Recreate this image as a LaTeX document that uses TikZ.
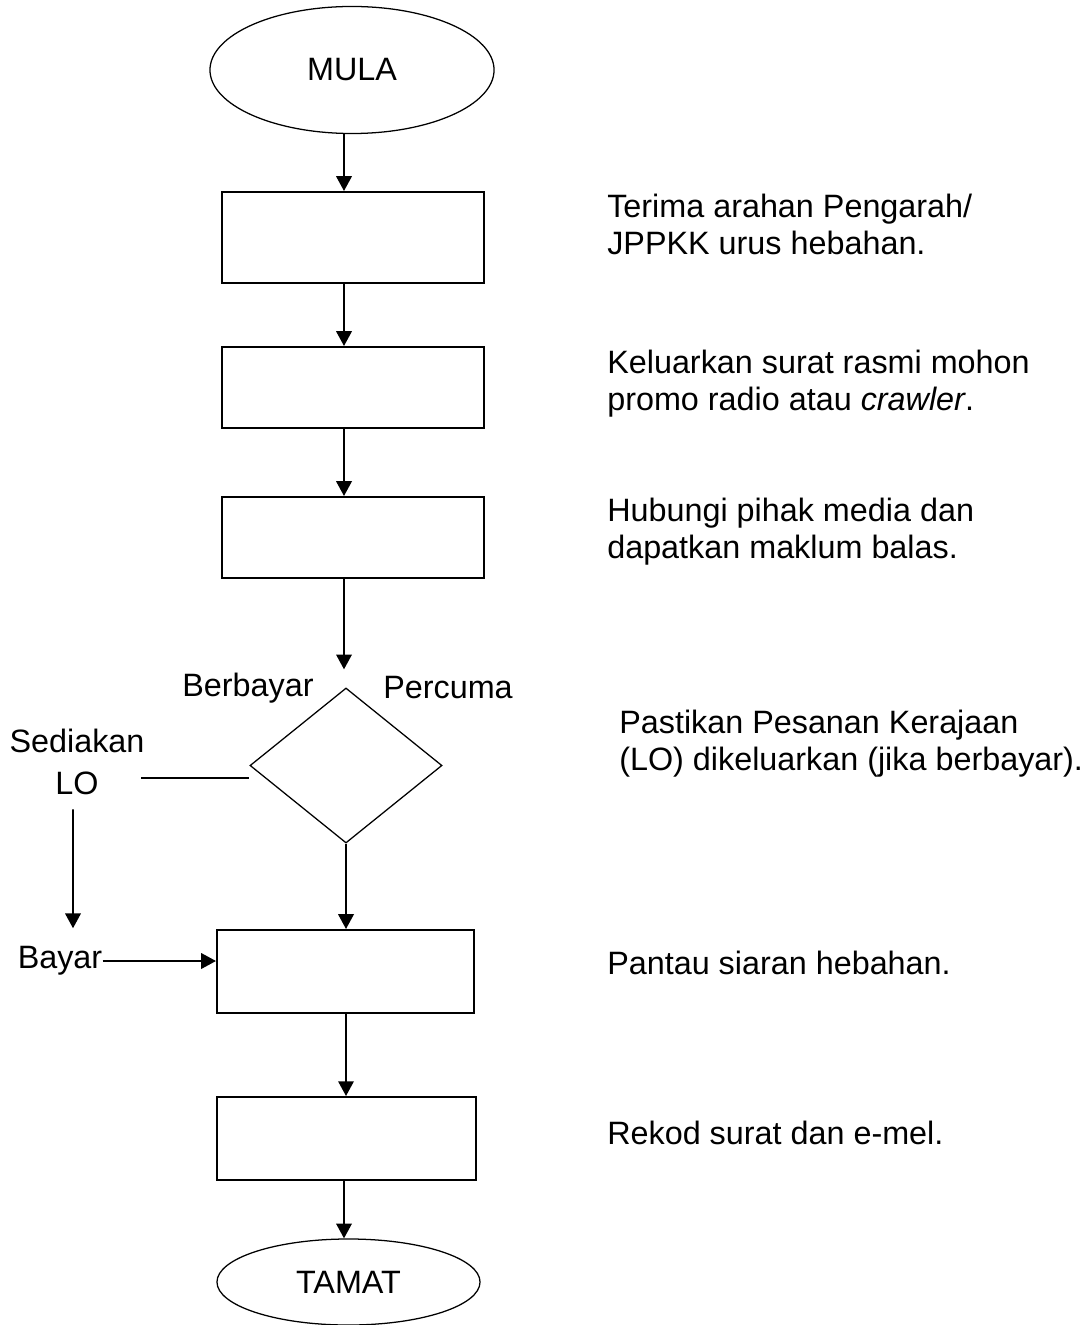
\documentclass[tikz,border=0pt]{standalone}
\usepackage{fontspec}
\setmainfont{Liberation Sans}
\usetikzlibrary{shapes.geometric}
\usetikzlibrary{arrows.meta}

\begin{document}
\begin{tikzpicture}[x=0.025cm,y=-0.025cm,>={Triangle[length=10.5pt,width=11pt]},
	font=\fontsize{23}{26.3}\selectfont,
	step box/.style={rectangle,draw,line width=1.4pt,inner sep=0pt},
	end node/.style={ellipse,draw,line width=0.9pt,inner sep=0pt},
	flow/.style={->,line width=1.4pt},
	note/.style={anchor=west,align=left,inner sep=0pt}]

	\useasboundingbox (0,0) rectangle (1091,1325);

	\node[end node, minimum width=7.1cm, minimum height=3.175cm] (mula) at (352,70) {MULA};
	\node[step box, minimum width=6.55cm, minimum height=2.275cm] (b1) at (353,237.5) {};
	\node[step box, minimum width=6.55cm, minimum height=2.025cm] (b2) at (353,387.5) {};
	\node[step box, minimum width=6.55cm, minimum height=2.025cm] (b3) at (353,537.5) {};
	\node[diamond, draw, line width=0.9pt, inner sep=0pt,
		minimum width=4.8cm, minimum height=3.875cm] (dia) at (346,765.5) {};
	\node[step box, minimum width=6.425cm, minimum height=2.075cm] (b4) at (345.5,971.5) {};
	\node[step box, minimum width=6.475cm, minimum height=2.075cm] (b5) at (346.5,1138.5) {};
	\node[end node, minimum width=6.575cm, minimum height=2.15cm] (tamat) at (348.5,1282) {TAMAT};

	\coordinate (spine) at (344,0);

	% labels round the decision
	\node[inner sep=0pt] (berbayar) at (248,688) {Berbayar};
	\node[inner sep=0pt] (percuma) at (448,688) {Percuma};
	\node[inner sep=0pt, align=center] (sediakan) at (77,762) {Sediakan\\[4pt]LO};
	\node[inner sep=0pt] (bayar) at (60,961) {Bayar};
	\coordinate (lo-end) at (141,778);

	% notes
	\node[note] (n1) at (607,224.5) {Terima arahan Pengarah/\\JPPKK urus hebahan.};
	\node[note] (n2) at (607,383.5) {Keluarkan surat rasmi mohon\\promo radio atau \textit{crawler}.};
	\node[note] (n3) at (607,532) {Hubungi pihak media dan\\dapatkan maklum balas.};
	\node[note] (n4) at (619,743.5) {Pastikan Pesanan Kerajaan\\(LO) dikeluarkan (jika berbayar).};
	\node[note] (n5) at (607,963) {Pantau siaran hebahan.};
	\node[note] (n6) at (607,1133) {Rekod surat dan e-mel.};

	\draw[flow] (mula.south -| spine) -- (b1.north -| spine);
	\draw[flow] (b1.south -| spine) -- (b2.north -| spine);
	\draw[flow] (b2.south -| spine) -- (b3.north -| spine);
	\draw[flow, shorten >=0.45cm] (b3.south -| spine) -- (dia.north -| spine);
	\draw[flow] (dia.south) -- (b4.north -| dia.south);
	\draw[flow] (b4.south -| dia.south) -- (b5.north -| dia.south);
	\draw[flow] (b5.south -| spine) -- (tamat.north -| spine);

	\draw[line width=0.9pt] (lo-end) -- (lo-end -| dia.west);
	\draw[flow, shorten <=0.35cm, shorten >=0.45cm] ([xshift=-0.1cm]sediakan.south) -- ([xshift=0.325cm]bayar.north);
	\draw[flow] (bayar.east) -- (bayar.east -| b4.west);
\end{tikzpicture}
\end{document}
